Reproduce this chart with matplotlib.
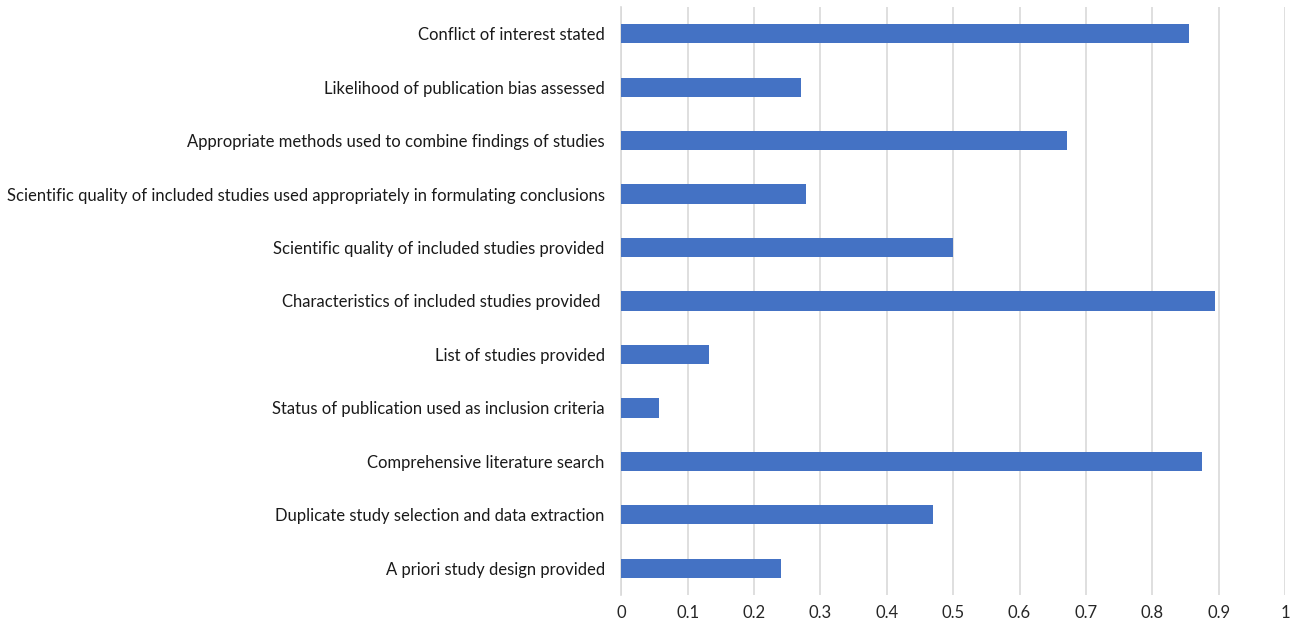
import matplotlib
matplotlib.use("Agg")
import matplotlib.pyplot as plt
import numpy as np

plt.rcParams['font.family'] = ['Lato', 'DejaVu Sans']

# quality criteria, bottom to top
criteria = [
    "A priori study design provided",
    "Duplicate study selection and data extraction",
    "Comprehensive literature search",
    "Status of publication used as inclusion criteria",
    "List of studies provided",
    "Characteristics of included studies provided ",
    "Scientific quality of included studies provided",
    "Scientific quality of included studies used appropriately in formulating conclusions",
    "Appropriate methods used to combine findings of studies",
    "Likelihood of publication bias assessed",
    "Conflict of interest stated",
]
proportions = [0.240, 0.470, 0.875, 0.056, 0.132, 0.894, 0.500, 0.278, 0.672, 0.271, 0.855]
x_ticks = [0, 0.1, 0.2, 0.3, 0.4, 0.5, 0.6, 0.7, 0.8, 0.9, 1]
x_tick_labels = ["0", "0.1", "0.2", "0.3", "0.4", "0.5", "0.6", "0.7", "0.8", "0.9", "1"]

fig = plt.figure(figsize=(12.95, 6.32), dpi=100)
ax = fig.add_axes([0.4798, 0.0585, 0.5125, 0.9305])

y = np.arange(len(criteria))
ax.barh(y, proportions, height=0.36, color="#4472C4", zorder=3)

ax.set_xlim(0, 1)
ax.set_ylim(-0.5, len(criteria) - 0.5)
ax.set_xticks(x_ticks)
ax.set_xticklabels(x_tick_labels, fontsize=12, color="#262626")
ax.set_yticks(y)
ax.set_yticklabels(criteria, fontsize=12, color="#1a1a1a")

ax.grid(axis="x", color="#d9d9d9", linewidth=1.2, zorder=0)
for side in ["top", "right", "bottom"]:
    ax.spines[side].set_visible(False)
ax.spines["left"].set_color("#d9d9d9")
ax.spines["left"].set_linewidth(1.2)
ax.tick_params(axis="y", length=0, pad=12)
ax.tick_params(axis="x", length=0, pad=7)

fig.savefig("out.png", dpi=100, facecolor="white")
